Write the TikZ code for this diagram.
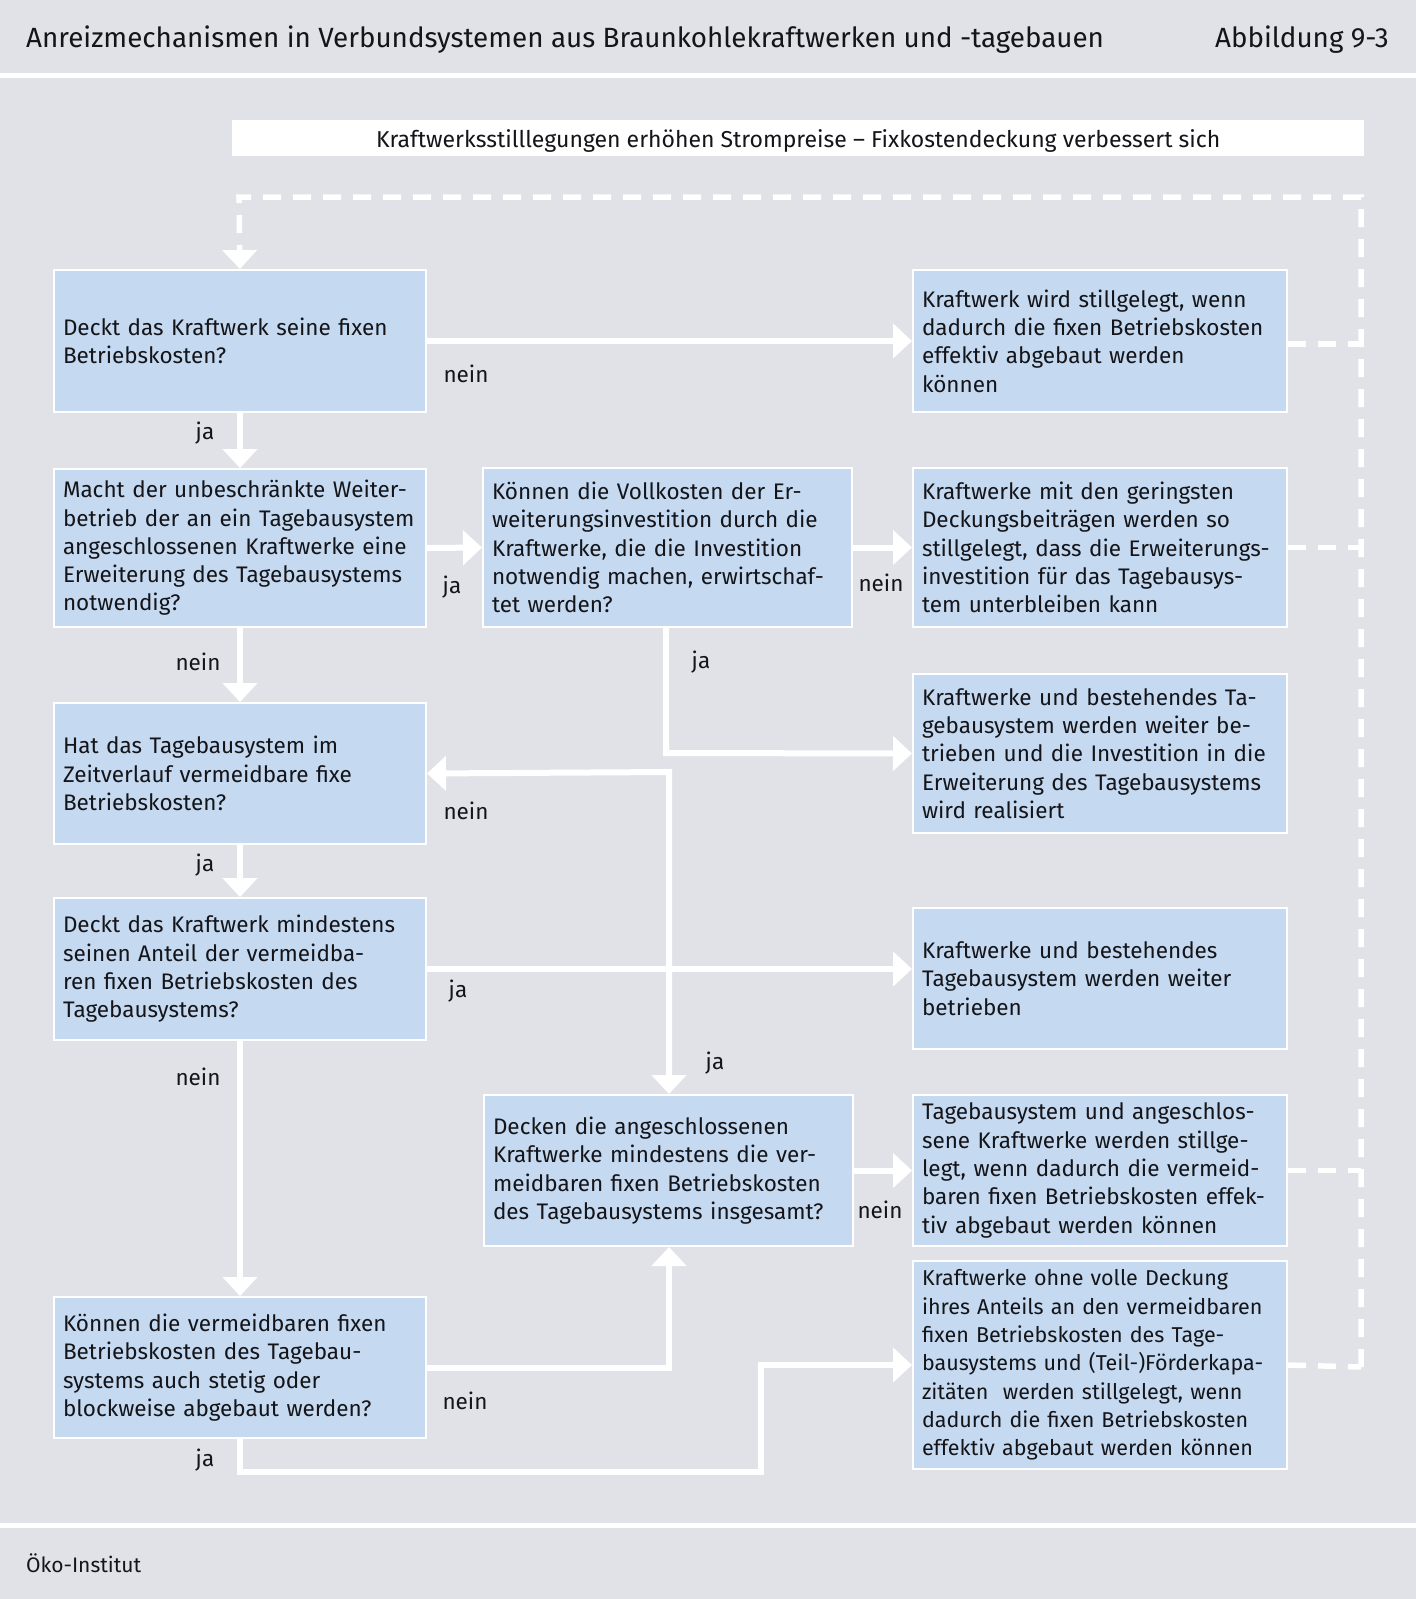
\documentclass[tikz,border=0pt]{standalone}
\usepackage{fontspec}
\setmainfont{Fira Sans}
\usetikzlibrary{arrows.meta}
\definecolor{bg}{RGB}{225,226,231}
\definecolor{boxblue}{RGB}{197,218,241}
\definecolor{txt}{RGB}{20,20,25}
\begin{document}
\begin{tikzpicture}[x=1pt,y=-1pt,
  box/.style={draw=white, line width=2pt, fill=boxblue, anchor=north west, inner xsep=9pt, inner ysep=0pt, align=left, font=\fontsize{22.5}{28.3}\selectfont, text=txt},
  conn/.style={draw=white, line width=6pt, -{Triangle[width=34pt,length=19pt]}},
  conntwo/.style={draw=white, line width=6pt, {Triangle[width=34pt,length=19pt]}-{Triangle[width=34pt,length=19pt]}},
  fb/.style={draw=white, line width=5.5pt, dash pattern=on 18pt off 12pt},
  fbarrow/.style={fb, -{Triangle[width=34pt,length=19pt]}},
  lab/.style={font=\fontsize{22.5}{25}\selectfont, text=txt, inner sep=0pt}]
\useasboundingbox (0,0) rectangle (1416,1599);
\fill[bg] (0,0) rectangle (1416,1599);
\fill[white] (0,73) rectangle (1416,78);
\fill[white] (0,1523) rectangle (1416,1528);
% header
\node[anchor=base west, font=\fontsize{27.8}{30}\selectfont, text=txt, inner sep=0pt] (title) at (26,47) {Anreizmechanismen in Verbundsystemen aus Braunkohlekraftwerken und -tagebauen};
\node[anchor=base east, font=\fontsize{27.8}{30}\selectfont, text=txt, inner sep=0pt] (abb) at (1389,47) {Abbildung 9-3};
\node[fill=white, anchor=north west, minimum width=1132pt, minimum height=36pt, inner sep=0pt, text height=18pt, text depth=0pt, font=\fontsize{23}{25}\selectfont, text=txt] (banner) at (232,120) {Kraftwerksstilllegungen erhöhen Strompreise – Fixkostendeckung verbessert sich};
\node[anchor=west, font=\fontsize{21}{25}\selectfont, text=txt, inner sep=0pt] (src) at (26,1563) {Öko-Institut};
% left column
\node[box, text width=354pt, minimum height=142pt] (b1) at (53,269) {Deckt das Kraftwerk seine fixen\\Betriebskosten?};
\node[box, text width=354pt, minimum height=158pt] (b2) at (53,468) {Macht der unbeschränkte Weiter-\\betrieb der an ein Tagebausystem\\angeschlossenen Kraftwerke eine\\Erweiterung des Tagebausystems\\notwendig?};
\node[box, text width=354pt, minimum height=141pt] (b3) at (53,702) {Hat das Tagebausystem im\\Zeitverlauf vermeidbare fixe\\Betriebskosten?};
\node[box, text width=354pt, minimum height=142pt] (b4) at (53,897) {Deckt das Kraftwerk mindestens\\seinen Anteil der vermeidba-\\ren fixen Betriebskosten des\\Tagebausystems?};
\node[box, text width=354pt, minimum height=141pt] (b5) at (53,1296) {Können die vermeidbaren fixen\\Betriebskosten des Tagebau-\\systems auch stetig oder\\blockweise abgebaut werden?};
% middle column
\node[box, text width=351pt, minimum height=159pt] (m1) at (482,467) {Können die Vollkosten der Er-\\weiterungsinvestition durch die\\Kraftwerke, die die Investition\\notwendig machen, erwirtschaf-\\tet werden?};
\node[box, text width=351pt, minimum height=151pt] (m2) at (483,1094) {Decken die angeschlossenen\\Kraftwerke mindestens die ver-\\meidbaren fixen Betriebskosten\\des Tagebausystems insgesamt?};
% right column
\node[box, text width=356pt, minimum height=142pt] (r1) at (912,269) {Kraftwerk wird stillgelegt, wenn\\dadurch die fixen Betriebskosten\\effektiv abgebaut werden\\können};
\node[box, text width=356pt, minimum height=159pt] (r2) at (912,467) {Kraftwerke mit den geringsten\\Deckungsbeiträgen werden so\\stillgelegt, dass die Erweiterungs-\\investition für das Tagebausys-\\tem unterbleiben kann};
\node[box, text width=356pt, minimum height=159pt] (r3) at (912,673) {Kraftwerke und bestehendes Ta-\\gebausystem werden weiter be-\\trieben und die Investition in die\\Erweiterung des Tagebausystems\\wird realisiert};
\node[box, text width=356pt, minimum height=141pt] (r4) at (912,907) {Kraftwerke und bestehendes\\Tagebausystem werden weiter\\betrieben};
\node[box, text width=356pt, minimum height=151pt] (r5) at (912,1094) {Tagebausystem und angeschlos-\\sene Kraftwerke werden stillge-\\legt, wenn dadurch die vermeid-\\baren fixen Betriebskosten effek-\\tiv abgebaut werden können};
\node[box, text width=356pt, minimum height=208pt, font=\fontsize{21.5}{28.3}\selectfont] (r6) at (912,1260) {\mbox{Kraftwerke ohne volle Deckung}\\\mbox{ihres Anteils an den vermeidbaren}\\\mbox{fixen Betriebskosten des Tage-}\\\mbox{bausystems und (Teil-)Förderkapa-}\\\mbox{zitäten\ \ werden stillgelegt, wenn}\\\mbox{dadurch die fixen Betriebskosten}\\\mbox{effektiv abgebaut werden können}};
% coordinates
\coordinate (fbR) at (1361,197);
\coordinate (fbL) at (239,197);
\coordinate (fb6) at (1361,1367);
\coordinate (j1) at (666,753);
\coordinate (j2) at (669,772);
\coordinate (j3) at (761,1472);
% feedback (dashed)
\draw[fbarrow] (fb6) -- (fbR) -- (fbL) -- (b1.north);
\draw[fb] ([yshift=-3pt]r1.east) -- ([yshift=-3pt]r1.east -| fbR);
\draw[fb] (r2.east) -- (r2.east -| fbR);
\draw[fb] (r5.east) -- (r5.east -| fbR);
\draw[fb] (r6.east) -- (fb6);
% solid connectors
\draw[conn] (b1.east) -- (r1.west);
\draw[conn] (b1.south) -- (b2.north);
\draw[conn] (b2.east) -- (m1.west);
\draw[conn] (m1.east) -- (r2.west);
\draw[conn] (b2.south) -- (b3.north);
\draw[conn] (m1.south -| j1) -- (j1) -- (r3.west);
\draw[conntwo] (b3.east) -- (j2) -- (j2 |- m2.north);
\draw[conn] (b3.south) -- (b4.north);
\draw[conn] (b4.east) -- (r4.west |- b4.east);
\draw[conn] (b4.south) -- (b5.north);
\draw[conn] (m2.east) -- (r5.west);
\draw[conn] (b5.east) -| (m2.south -| j2);
\draw[conn] (b5.south) |- (j3) |- (r6.west);
% labels
\node[lab] (l1) at (466,374) {nein};
\node[lab] (l2) at (205,433) {ja};
\node[lab] (l3) at (452,587) {ja};
\node[lab] (l4) at (881,583) {nein};
\node[lab] (l5) at (198,662) {nein};
\node[lab] (l6) at (701,662) {ja};
\node[lab] (l7) at (466,811) {nein};
\node[lab] (l8) at (205,865) {ja};
\node[lab] (l9) at (458,991) {ja};
\node[lab] (l10) at (198,1077) {nein};
\node[lab] (l11) at (715,1063) {ja};
\node[lab] (l12) at (880,1210) {nein};
\node[lab] (l13) at (465,1401) {nein};
\node[lab] (l14) at (205,1460) {ja};
\end{tikzpicture}
\end{document}
